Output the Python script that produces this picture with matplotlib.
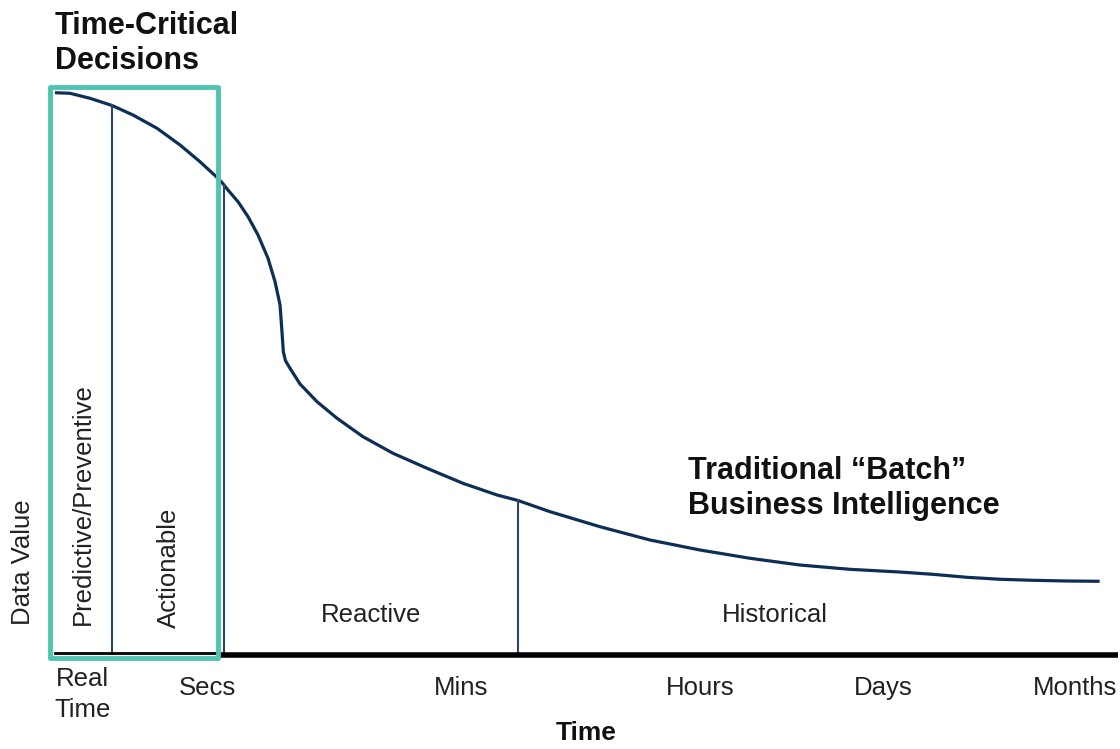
import numpy as np
import matplotlib
matplotlib.use("Agg")
import matplotlib.pyplot as plt
import matplotlib.transforms as mtransforms
from matplotlib.patches import Rectangle

# data value curve (time on a 0-100 scale, value 0-100)
curve_t = [0.00, 1.41, 3.29, 5.36, 7.34, 9.60, 11.76, 13.64, 15.05, 15.71,
           16.27, 17.22, 18.16, 19.10, 20.04, 20.70, 21.17, 21.33, 21.48, 21.68,
           22.11, 23.05, 24.65, 26.53, 28.97, 31.80, 35.00, 38.38, 41.58, 43.56,
           46.57, 51.27, 55.97, 60.68, 65.38, 70.08, 74.79, 79.49, 82.60, 85.80,
           88.90, 92.00, 95.20, 98.12]
curve_v = [97.79, 97.69, 96.82, 95.57, 93.91, 91.60, 88.70, 85.79, 83.39, 82.17,
           80.87, 78.83, 76.23, 73.04, 68.99, 64.92, 60.87, 56.82, 52.75, 51.20,
           49.86, 47.13, 44.05, 41.17, 37.97, 35.08, 32.47, 29.86, 27.83, 26.87,
           24.92, 22.31, 20.00, 18.26, 16.82, 15.65, 14.90, 14.43, 14.03, 13.51,
           13.17, 12.99, 12.87, 12.82]

# phase boundaries
boundaries = [5.36, 15.9, 43.56]

# time axis ticks
tick_pos = [2.6, 14.3, 38.2, 60.7, 77.9, 96.0]
tick_labels = ["Real\nTime", "Secs", "Mins", "Hours", "Days", "Months"]

# phase labels: (text, x, y, rotation)
phases = [("Predictive/Preventive", 2.6, 26.3, 90),
          ("Actionable", 10.7, 15.2, 90),
          ("Reactive", 29.7, 7.0, 0),
          ("Historical", 67.7, 7.0, 0)]

navy = "#0d2f55"
line_col = "#2a4565"
teal = "#4fc4b0"

plt.rcParams['font.family'] = ['Liberation Sans', 'DejaVu Sans']

fig = plt.figure(figsize=(11.2, 7.49), dpi=100)
ax = fig.add_axes([55 / 1120, 94 / 749, 1063 / 1120, 575 / 749])
ax.set_xlim(0, 100)
ax.set_ylim(0, 100)
for s in ax.spines.values():
    s.set_visible(False)

# curve
ax.plot(curve_t, curve_v, color=navy, lw=2.3, solid_joinstyle='round')

# boundary lines up to the curve
for b in boundaries:
    top = np.interp(b, curve_t, curve_v)
    ax.plot([b, b], [0, top], color=line_col, lw=1.5)

# baseline: thin inside the box, thick after it
ax.plot([0, 15.3], [0.3, 0.3], color='black', lw=2, clip_on=False)
ax.plot([15.5, 100], [0, 0], color='black', lw=4, clip_on=False,
        solid_capstyle='butt')

# time-critical box
ax.add_patch(Rectangle((-0.47, -0.52), 15.8, 99.3, fill=False,
                       edgecolor=teal, lw=3.5, joinstyle='round',
                       clip_on=False, zorder=5))

for text, x, y, rot in phases:
    ax.text(x, y, text, rotation=rot, ha='center', va='center',
            fontsize=18.5, color='#222222')

ax.text(0, 106.3, "Time-Critical\nDecisions", ha='left', va='center',
        fontsize=22, fontweight='bold', color='#111111', linespacing=1.2,
        clip_on=False)
ax.text(59.55, 29.0, "Traditional \u201cBatch\u201d\nBusiness Intelligence",
        ha='left', va='center', fontsize=22, fontweight='bold',
        color='#111111', linespacing=1.2)

ax.set_xticks(tick_pos)
ax.set_xticklabels(tick_labels, fontsize=18.5, color='#222222',
                   linespacing=1.35)
for lab in ax.get_xticklabels():
    lab.set_va('center')
ax.tick_params(axis='x', length=0, pad=24)
ax.set_yticks([])

# nudge the two-line "Real Time" label down a little
first = ax.get_xticklabels()[0]
first.set_transform(first.get_transform() +
                    mtransforms.ScaledTranslation(0, -0.06, fig.dpi_scale_trans))

ax.set_ylabel("Data Value", fontsize=18.5, color='#222222')
ax.yaxis.set_label_coords(-0.019, 0.162)
ax.set_xlabel("Time", fontsize=19, fontweight='bold', color='#111111')
ax.xaxis.set_label_coords(0.5, -0.115)

fig.savefig("out.png", dpi=100)
